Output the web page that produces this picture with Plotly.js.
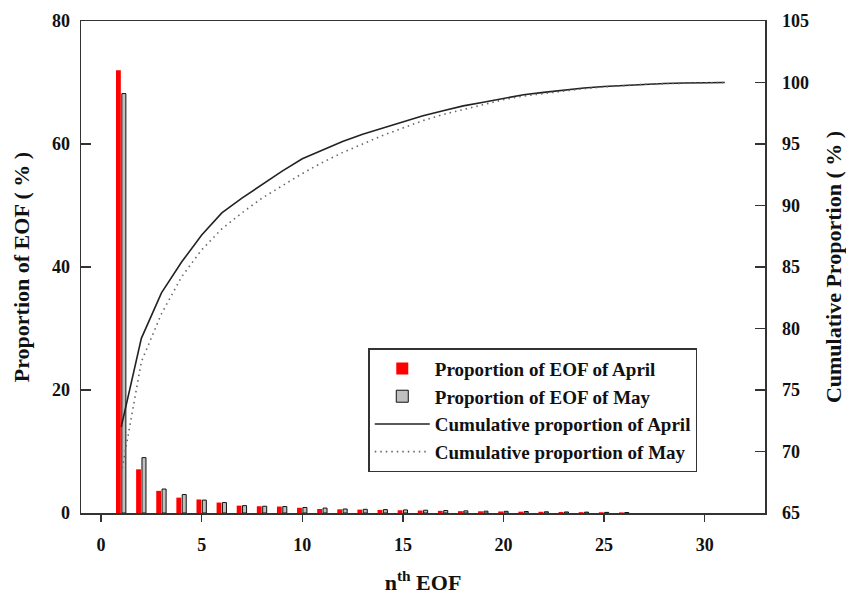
<!DOCTYPE html>
<html>
<head>
<meta charset="utf-8">
<script src="https://cdn.plot.ly/plotly-3.0.1.min.js"></script>
<style>html,body{margin:0;padding:0;background:#fff;}#chart{width:846px;height:595px;}</style>
</head>
<body>
<div id="chart"></div>
<script>
const eofIndex = [1,2,3,4,5,6,7,8,9,10,11,12,13,14,15,16,17,18,19,20,21,22,23,24,25,26];
const aprilProp = [72.0,7.1,3.6,2.5,2.2,1.7,1.2,1.1,1.05,0.85,0.65,0.6,0.55,0.5,0.45,0.4,0.35,0.3,0.28,0.25,0.22,0.2,0.17,0.14,0.12,0.1];
const mayProp = [68.2,9.0,3.9,3.0,2.1,1.7,1.2,1.1,1.05,0.9,0.8,0.65,0.6,0.55,0.5,0.45,0.4,0.35,0.3,0.27,0.24,0.2,0.17,0.14,0.1,0.08];
const cumIndex = [1,2,3,4,5,6,7,8,9,10,11,12,13,14,15,16,17,18,19,20,21,22,23,24,25,26,27,28,29,30,31];
const aprilCum = [72.0,79.2,82.9,85.4,87.6,89.4,90.6,91.7,92.8,93.8,94.5,95.2,95.8,96.3,96.8,97.3,97.7,98.1,98.4,98.7,99.0,99.2,99.4,99.55,99.68,99.78,99.86,99.92,99.96,99.99,100.0];
const mayCum = [68.2,77.3,81.2,84.2,86.4,88.1,89.4,90.6,91.6,92.6,93.5,94.3,95.0,95.7,96.3,96.9,97.4,97.8,98.2,98.6,98.9,99.1,99.33,99.5,99.64,99.76,99.85,99.91,99.96,99.99,100.0];
const xTicks = [0,5,10,15,20,25,30];

const serif = "'Liberation Serif', 'Times New Roman', serif";
const traces = [
  {type:'bar', x:eofIndex, y:aprilProp, name:'Proportion of EOF of April',
   marker:{color:'#ff0000', line:{width:0}}, offset:-0.26, width:0.24, yaxis:'y'},
  {type:'bar', x:eofIndex, y:mayProp, name:'Proportion of EOF of May',
   marker:{color:'#c0c0c0', line:{color:'#111', width:1}}, offset:0.03, width:0.2, yaxis:'y'},
  {type:'scatter', mode:'lines', x:cumIndex, y:aprilCum, name:'Cumulative proportion of April',
   line:{color:'#222', width:1.6}, yaxis:'y2'},
  {type:'scatter', mode:'lines', x:cumIndex, y:mayCum, name:'Cumulative proportion of May',
   line:{color:'#666', width:1.6, dash:'1.5px,4px'}, yaxis:'y2'}
];
const tickFont = {family:serif, size:18, color:'#111', weight:'bold'};
const titleFont = {family:serif, size:22, color:'#111', weight:'bold'};
const layout = {
  width:846, height:595,
  margin:{l:81, r:81, t:21, b:82},
  paper_bgcolor:'#fff', plot_bgcolor:'#fff',
  barmode:'overlay',
  showlegend:true,
  font:{family:serif, color:'#111'},
  xaxis:{range:[-1,33], tickvals:xTicks, ticks:'outside', ticklen:7, tickcolor:'#333', tickwidth:1.5,
    showline:true, linecolor:'#333', linewidth:1.5, mirror:true, showgrid:false, zeroline:false,
    tickfont:tickFont, ticklabelstandoff:8,
    title:{text:'n<sup>th</sup> EOF', font:titleFont, standoff:24}},
  yaxis:{range:[0,80], dtick:20, ticks:'inside', ticklen:10, tickcolor:'#333', tickwidth:1.5,
    showline:true, linecolor:'#333', linewidth:1.5, showgrid:false, zeroline:false,
    tickfont:tickFont, ticklabelstandoff:6,
    title:{text:'Proportion of EOF ( % )', font:titleFont, standoff:16}},
  yaxis2:{range:[65,105], dtick:5, overlaying:'y', side:'right', ticks:'inside', ticklen:10, tickcolor:'#333', tickwidth:1.5,
    showline:true, linecolor:'#333', linewidth:1.5, showgrid:false, zeroline:false,
    tickfont:tickFont, ticklabelstandoff:12,
    title:{text:'Cumulative Proportion ( % )', font:titleFont, standoff:21}},
  legend:{x:0.42, y:0.335, xanchor:'left', yanchor:'top', bgcolor:'#fff', bordercolor:'#333', borderwidth:1.5,
    font:{family:serif, size:19, color:'#111', weight:'bold'}, itemwidth:55, tracegroupgap:0}
};
Plotly.newPlot('chart', traces, layout, {displayModeBar:false, staticPlot:true});
</script>
</body>
</html>
